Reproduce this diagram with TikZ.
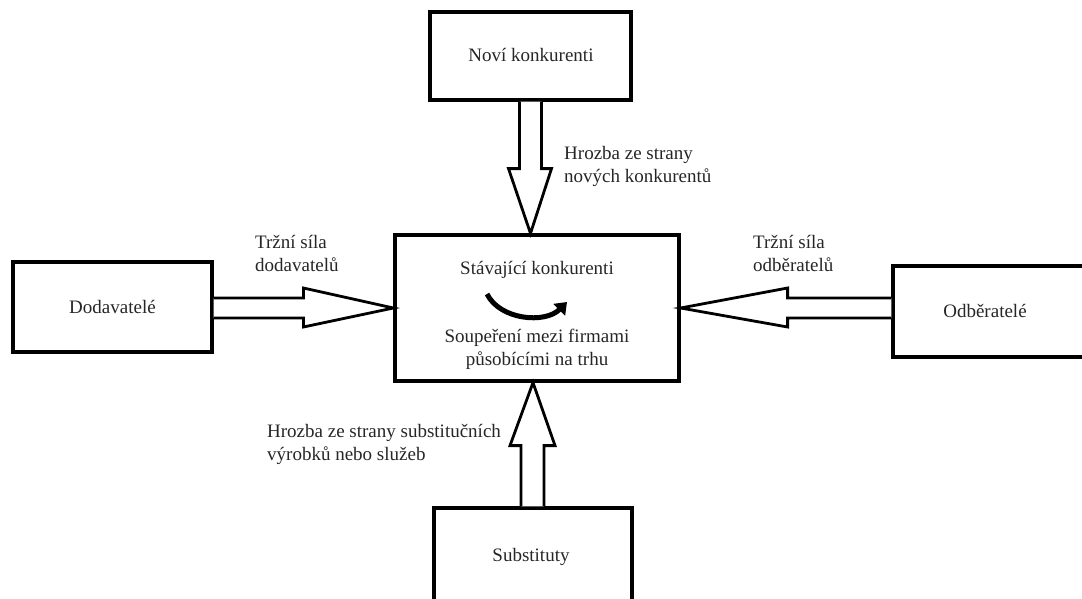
\documentclass[tikz,border=0pt]{standalone}
\usepackage{fontspec}
\setmainfont{Liberation Serif}
\usetikzlibrary{calc,arrows.meta}
\begin{document}
\begin{tikzpicture}[x=1pt,y=-1pt,
  box/.style={draw,line width=3.2pt,inner sep=0pt,font=\fontsize{19}{23}\selectfont},
  blockarrow/.style={draw,line width=2.8pt,line join=miter,fill=white},
  lbl/.style={font=\fontsize{19}{23}\selectfont,align=left,inner sep=0pt,text=black!85},
  turn/.style={line width=5pt,-{Triangle[width=16pt,length=11pt]}}]
\useasboundingbox (0,0) rectangle (1082,598);
\node[box,minimum width=201pt,minimum height=88pt] (nov) at (530.5,56) {};
\node[lbl] at (531,55) {Noví konkurenti};
\node[box,minimum width=199pt,minimum height=90pt] (dod) at (112.5,307) {};
\node[lbl] at (112.5,307) {Dodavatelé};
\node[box,minimum width=284pt,minimum height=146pt] (cen) at (537,308) {};
\node[box,minimum width=196pt,minimum height=91pt] (odb) at (991,311.5) {};
\node[lbl] at (985,311) {Odběratelé};
\node[box,minimum width=198pt,minimum height=120pt] (sub) at (533,568) {};
\node[lbl] at (531,557) {Substituty};
% centre texts
\node[lbl] (st) at (537,270) {Stávající konkurenti};
\node[lbl,align=center] (sp) at (537,349) {Soupeření mezi firmami\\působícími na trhu};
\draw[turn] (487,294) .. controls (500,320) and (545,324) .. (567,302);
% top arrow
\draw[blockarrow] ($(nov.south)+(-11,0)$) -- ($(nov.south)+(-11,67)$) -- ($(nov.south)+(-22,67)$)
  -- (nov.south |- cen.north) -- ($(nov.south)+(21,67)$) -- ($(nov.south)+(11,67)$) -- ($(nov.south)+(11,0)$);
% left arrow
\coordinate (lt) at (cen.west);
\draw[blockarrow] ($(dod.east |- lt)+(0,-10)$) -- ($(lt)+(-90,-10)$) -- ($(lt)+(-90,-20)$)
  -- (lt) -- ($(lt)+(-90,19)$) -- ($(lt)+(-90,10)$) -- ($(dod.east |- lt)+(0,10)$);
% right arrow
\coordinate (rt) at (cen.east);
\draw[blockarrow] ($(odb.west |- rt)+(0,-10)$) -- ($(rt)+(107,-10)$) -- ($(rt)+(107,-20)$)
  -- (rt) -- ($(rt)+(107,19)$) -- ($(rt)+(107,10)$) -- ($(odb.west |- rt)+(0,10)$);
% bottom arrow
\coordinate (bt) at (cen.south -| sub.north);
\draw[blockarrow] ($(sub.north)+(-12,0)$) -- ($(bt)+(-12,63)$) -- ($(bt)+(-23,63)$)
  -- (bt) -- ($(bt)+(22,63)$) -- ($(bt)+(11,63)$) -- ($(sub.north)+(11,0)$);
% labels
\node[lbl,anchor=west] (l1) at (564,166) {Hrozba ze strany\\nových konkurentů};
\node[lbl,anchor=west] (l2) at (255,253) {Tržní síla\\dodavatelů};
\node[lbl,anchor=west] (l3) at (753,253) {Tržní síla\\odběratelů};
\node[lbl,anchor=west] (l4) at (267,444) {Hrozba ze strany substitučních\\výrobků nebo služeb};
\end{tikzpicture}
\end{document}
